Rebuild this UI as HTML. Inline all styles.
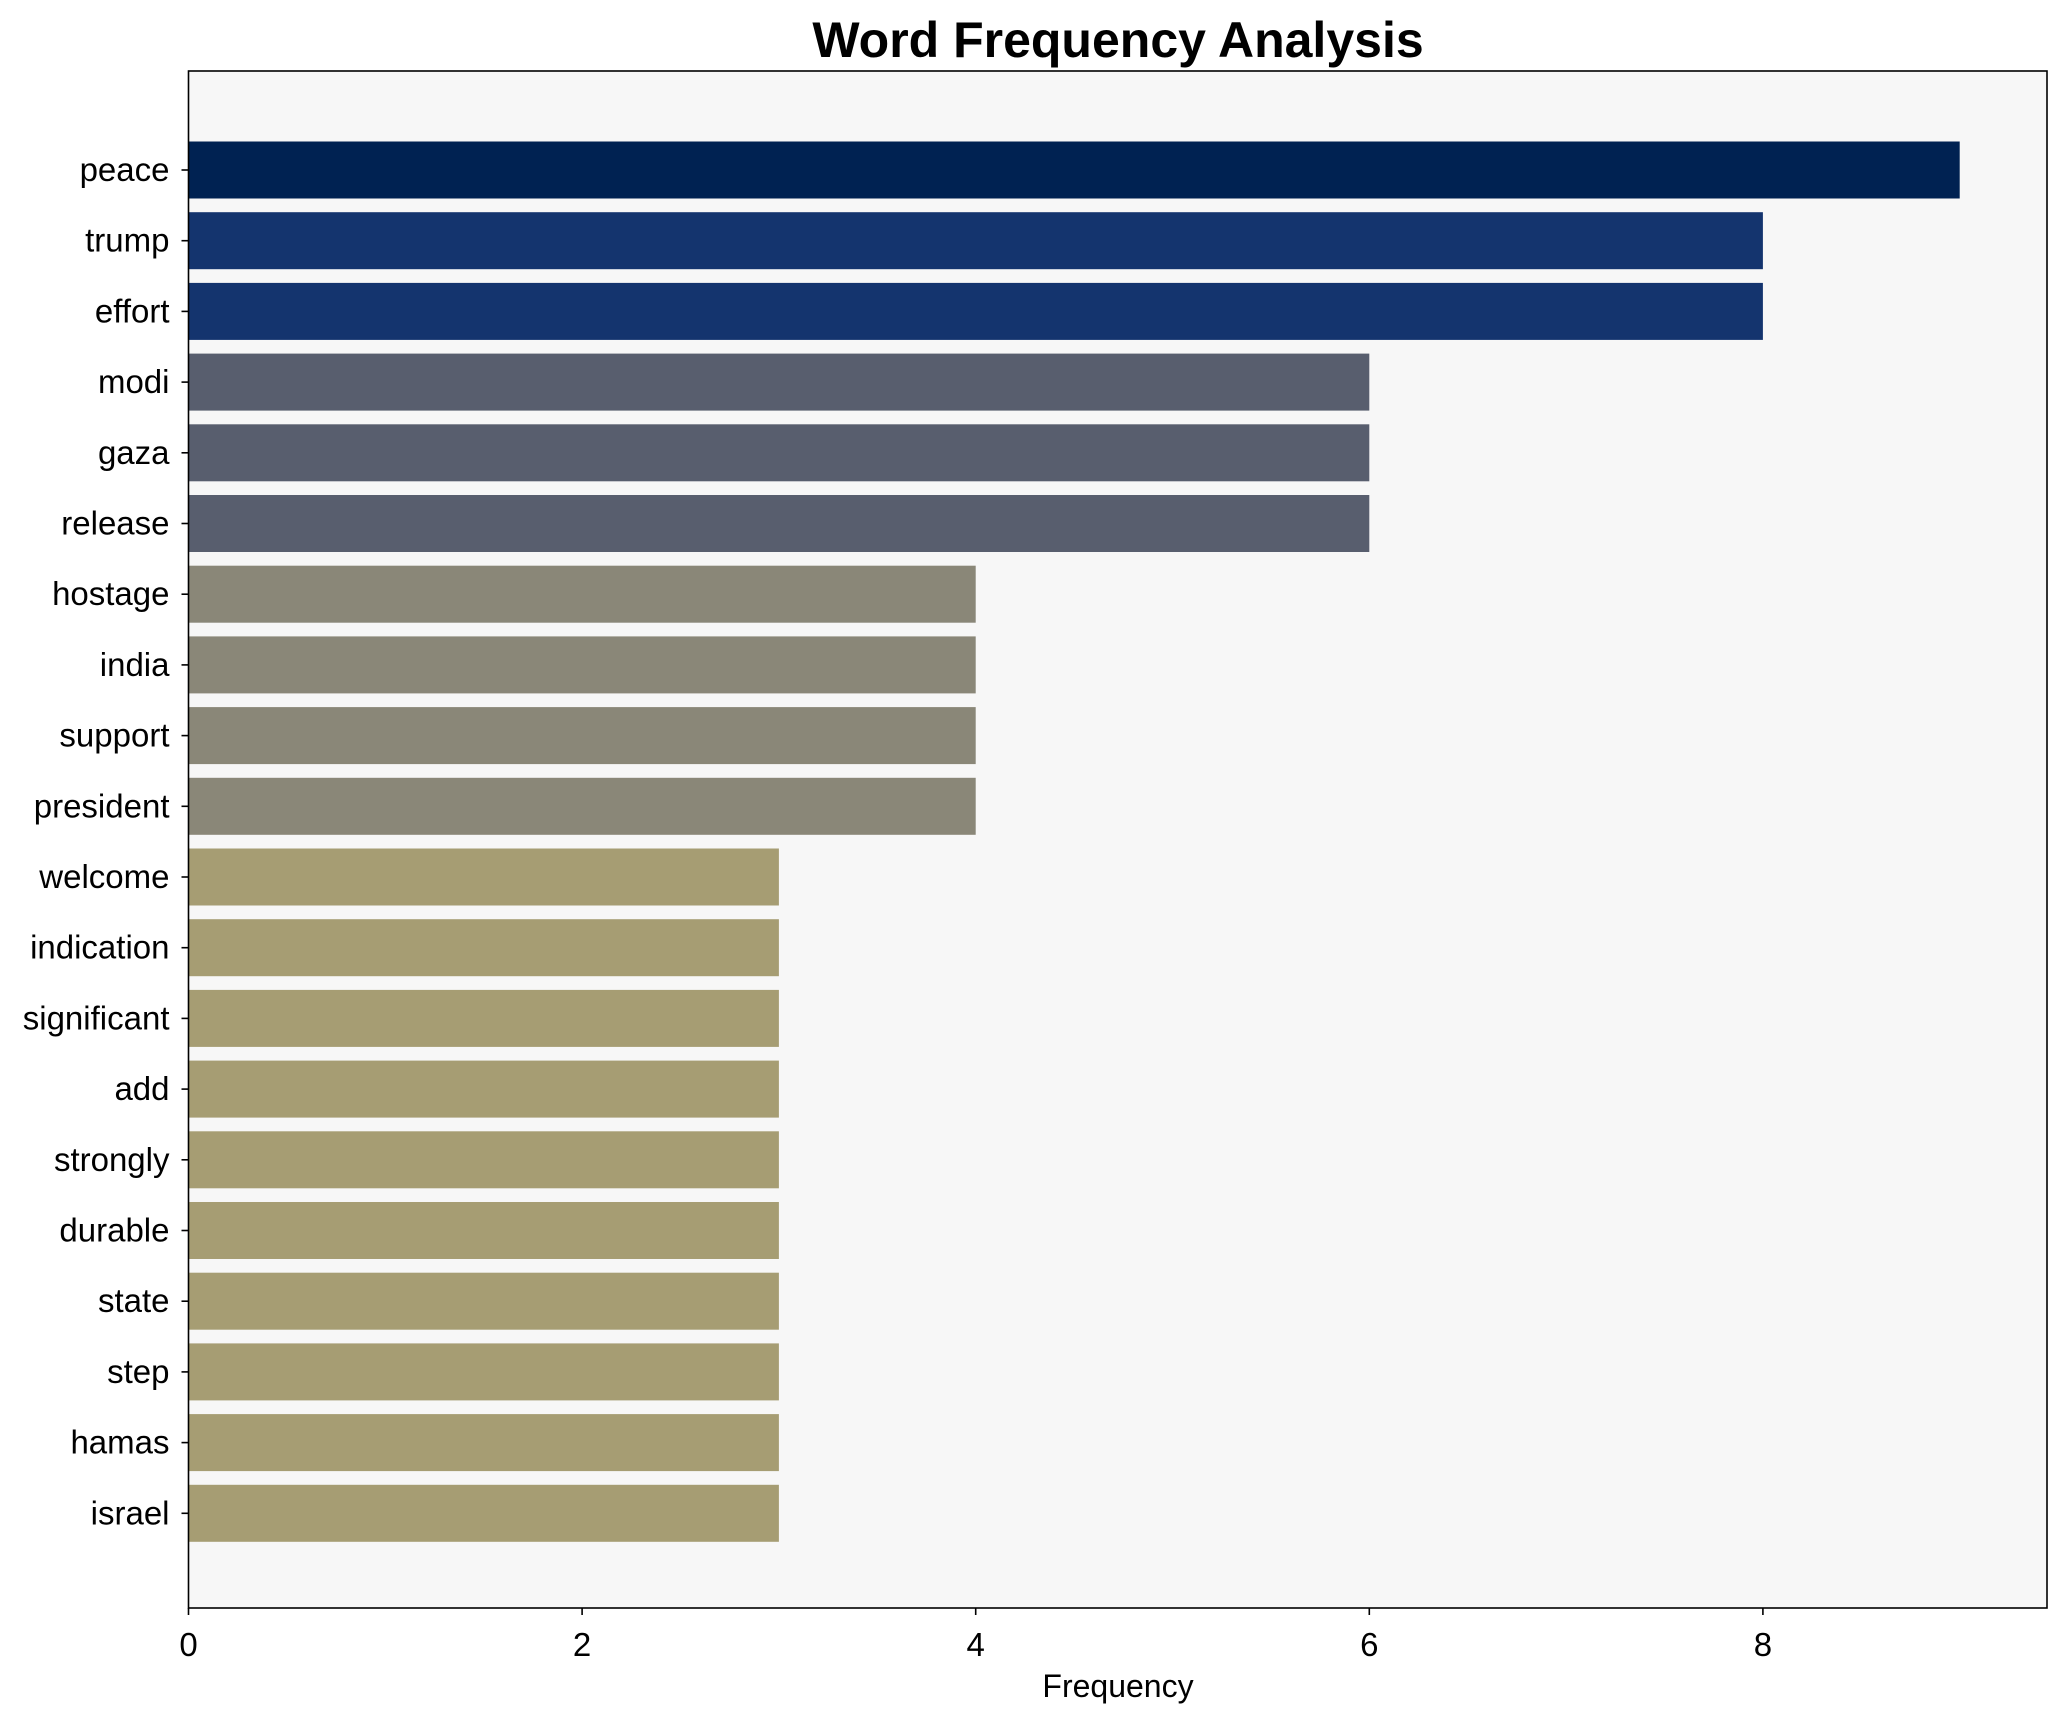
<!DOCTYPE html>
<html><head><meta charset="utf-8"><style>
html,body{margin:0;padding:0;background:#fff;}
svg{display:block;font-family:"Liberation Sans",Arial,sans-serif;}
</style></head><body>
<svg id="chart" width="2067" height="1722" viewBox="0 0 2067 1722" xmlns="http://www.w3.org/2000/svg">
<rect width="2067" height="1722" fill="#ffffff"/>
<text x="1118" y="57" text-anchor="middle" font-size="50" font-weight="bold" fill="#000">Word Frequency Analysis</text>
<rect x="188.5" y="71" width="1858.5" height="1537" fill="#f7f7f7"/>
<g id="bars"></g>
<g id="axes"></g>
<rect x="188.5" y="71" width="1858.5" height="1537" fill="none" stroke="#000" stroke-width="1.6"/>
<text x="1118" y="1697" text-anchor="middle" font-size="32" fill="#000">Frequency</text>
</svg>
<script>
const categories = ["peace","trump","effort","modi","gaza","release","hostage","india","support","president","welcome","indication","significant","add","strongly","durable","state","step","hamas","israel"];
const values = [9,8,8,6,6,6,4,4,4,4,3,3,3,3,3,3,3,3,3,3];
const xTicks = [0,2,4,6,8];
const NS = "http://www.w3.org/2000/svg";
const x0 = 188.5, pxPerUnit = 196.8;
function xScale(v){ return x0 + v*pxPerUnit; }
function yScale(i){ return 170 + i*70.7; }
const barH = 57;
function colorFor(v){
  if (v>=9) return "#002252";
  if (v>=8) return "#14346e";
  if (v>=6) return "#585e6e";
  if (v>=4) return "#8a8778";
  return "#a69d73";
}
const bars = document.getElementById("bars");
const axes = document.getElementById("axes");
categories.forEach((c,i)=>{
  const r = document.createElementNS(NS,"rect");
  r.setAttribute("x", xScale(0));
  r.setAttribute("y", yScale(i)-barH/2);
  r.setAttribute("width", xScale(values[i])-xScale(0));
  r.setAttribute("height", barH);
  r.setAttribute("fill", colorFor(values[i]));
  
  
  bars.appendChild(r);
  const t = document.createElementNS(NS,"line");
  t.setAttribute("x1", x0-7); t.setAttribute("x2", x0);
  t.setAttribute("y1", yScale(i)); t.setAttribute("y2", yScale(i));
  t.setAttribute("stroke","#000"); t.setAttribute("stroke-width","1.6");
  
  
  axes.appendChild(t);
  const l = document.createElementNS(NS,"text");
  l.setAttribute("x", x0-19); l.setAttribute("y", yScale(i)+11);
  l.setAttribute("text-anchor","end"); l.setAttribute("font-size","33");
  l.textContent = c;
  
  
  axes.appendChild(l);
});
xTicks.forEach(v=>{
  const t = document.createElementNS(NS,"line");
  t.setAttribute("x1", xScale(v)); t.setAttribute("x2", xScale(v));
  t.setAttribute("y1", 1608); t.setAttribute("y2", 1615);
  t.setAttribute("stroke","#000"); t.setAttribute("stroke-width","1.6");
  
  
  axes.appendChild(t);
  const l = document.createElementNS(NS,"text");
  l.setAttribute("x", xScale(v)); l.setAttribute("y", 1656);
  l.setAttribute("text-anchor","middle"); l.setAttribute("font-size","33");
  l.textContent = v;
  
  
  axes.appendChild(l);
});
</script>
</body></html>
